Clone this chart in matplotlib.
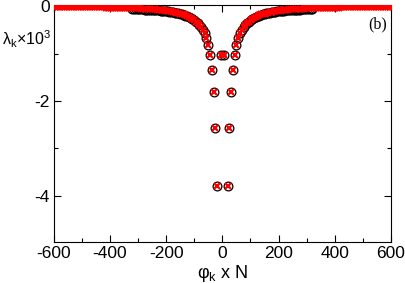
import matplotlib
matplotlib.use("Agg")
import matplotlib.pyplot as plt
import numpy as np
from matplotlib.ticker import MultipleLocator

plt.rcParams["font.family"] = ["Liberation Sans", "DejaVu Sans"]

# mode index k (one side, spectrum is symmetric in k -> -k); phi_k x N = 2 pi k
red_k = [1] + list(range(3, 97))
red_lam = [
    -1.03,
    -3.79, -2.57, -1.81, -1.34, -1.02, -0.81, -0.66, -0.56, -0.49, -0.44,
    -0.40, -0.36, -0.32, -0.29, -0.26, -0.24, -0.22, -0.20, -0.185, -0.17,
    -0.16, -0.15, -0.14, -0.13, -0.12, -0.11, -0.105, -0.10,
    -0.095, -0.09, -0.085, -0.08, -0.076, -0.072, -0.068, -0.065, -0.062, -0.059,
    -0.056, -0.053, -0.051, -0.049, -0.047, -0.045, -0.043, -0.041, -0.039, -0.037,
    -0.036, -0.035, -0.034, -0.033, -0.032, -0.031, -0.030, -0.029, -0.028, -0.027,
    -0.026, -0.025, -0.025, -0.024, -0.023, -0.023, -0.022, -0.021, -0.021, -0.020,
    -0.020, -0.019, -0.019, -0.018, -0.018, -0.017, -0.017, -0.016, -0.016, -0.016,
    -0.015, -0.015, -0.015, -0.014, -0.014, -0.014, -0.013, -0.013, -0.013, -0.012,
    -0.012, -0.012, -0.012, -0.011, -0.011, -0.011,
]

black_k = [1] + list(range(3, 52))
black_lam = [
    -1.03,
    -3.79, -2.57, -1.81, -1.34, -1.02, -0.81, -0.66, -0.56, -0.49, -0.44,
    -0.40, -0.36, -0.32,
    -0.295, -0.27, -0.248, -0.228, -0.21, -0.195, -0.18, -0.168, -0.157, -0.147,
    -0.138, -0.13, -0.123, -0.117, -0.111, -0.106, -0.101, -0.097, -0.093, -0.089,
    -0.086, -0.083, -0.08, -0.077, -0.075, -0.073, -0.071, -0.069, -0.067, -0.065,
    -0.063, -0.062, -0.061, -0.06, -0.059, -0.058,
]


def mirrored(k, lam):
    k = np.asarray(k, dtype=float)
    lam = np.asarray(lam)
    phi = 2 * np.pi * np.concatenate([-k[::-1], k])
    return phi, np.concatenate([lam[::-1], lam])


fig = plt.figure(figsize=(4.05, 2.83), dpi=100)
ax = fig.add_axes([0.133, 0.145, 0.832, 0.839])

xb, yb = mirrored(black_k, black_lam)
xr, yr = mirrored(red_k, red_lam)
ax.plot(xb, yb, ls="none", marker="o", ms=6.3, mfc="none", mec="black",
        mew=0.9, zorder=2)
ax.plot(xr, yr, ls="none", marker="x", ms=4.4, mec="red", mew=1.6,
        zorder=3)

ax.set_xlim(-600, 600)
ax.set_ylim(-4.98, 0.04)
ax.xaxis.set_major_locator(MultipleLocator(200))
ax.xaxis.set_minor_locator(MultipleLocator(100))
ax.yaxis.set_major_locator(MultipleLocator(2))
ax.yaxis.set_minor_locator(MultipleLocator(1))
ax.tick_params(which="both", direction="in", top=True, right=True,
               labelsize=12.5, pad=3)
ax.tick_params(which="major", length=5, width=0.8)
ax.tick_params(which="minor", length=3, width=0.8)
ax.set_yticks([0, -2, -4])
ax.set_yticklabels(["0", "-2", "-4"])
ax.set_xticks([-600, -400, -200, 0, 200, 400, 600])
ax.set_xticklabels(["-600", "-400", "-200", "0", "200", "400", "600"])
for s in ax.spines.values():
    s.set_linewidth(0.8)

ax.set_xlabel(r"$\mathregular{\varphi_k}$ x N", fontsize=13, labelpad=1)
fig.text(0.005, 0.862, r"$\mathregular{\lambda_k}$$\mathregular{\times 10^3}$",
         fontsize=11.5, ha="left", va="center")
ax.text(0.99, 0.915, "(b)", transform=ax.transAxes, ha="right", va="center",
        fontsize=11.5, family=["Liberation Serif", "DejaVu Serif"])

fig.savefig("out.png", dpi=100)
